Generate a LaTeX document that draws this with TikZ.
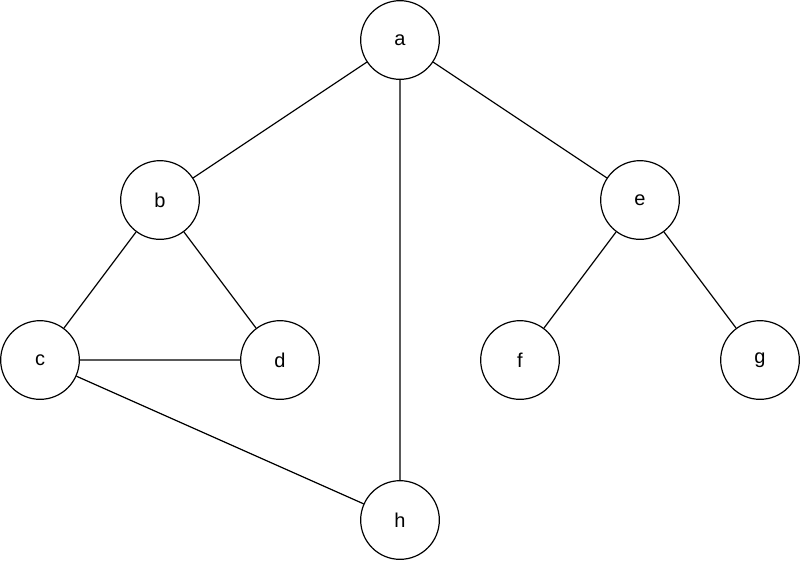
\documentclass[tikz,border=0pt]{standalone}
\usepackage{fontspec}
\setmainfont{Liberation Sans}
\begin{document}
\begin{tikzpicture}[x=0.75pt,y=-0.75pt,
  vert/.style={circle,draw,line width=0.9pt,minimum size=59pt,inner sep=0pt,font=\fontsize{15}{18}\selectfont},
  edge/.style={line width=0.9pt}]
\useasboundingbox (0,0) rectangle (802,562);
\node[vert] (a) at (400,40) {a};
\node[vert] (b) at (160,200) {b};
\node[vert] (c) at (40,360) {c};
\node[vert] (d) at (280,360) {d};
\node[vert] (e) at (640,200) {e};
\node[vert] (f) at (520,360) {f};
\node[vert] (g) at (760,360) {g};
\node[vert] (h) at (400,520) {h};
\draw[edge] (a)--(b) (a)--(e) (a)--(h) (b)--(c) (b)--(d) (c)--(d) (c)--(h) (e)--(f) (e)--(g);
\end{tikzpicture}
\end{document}
